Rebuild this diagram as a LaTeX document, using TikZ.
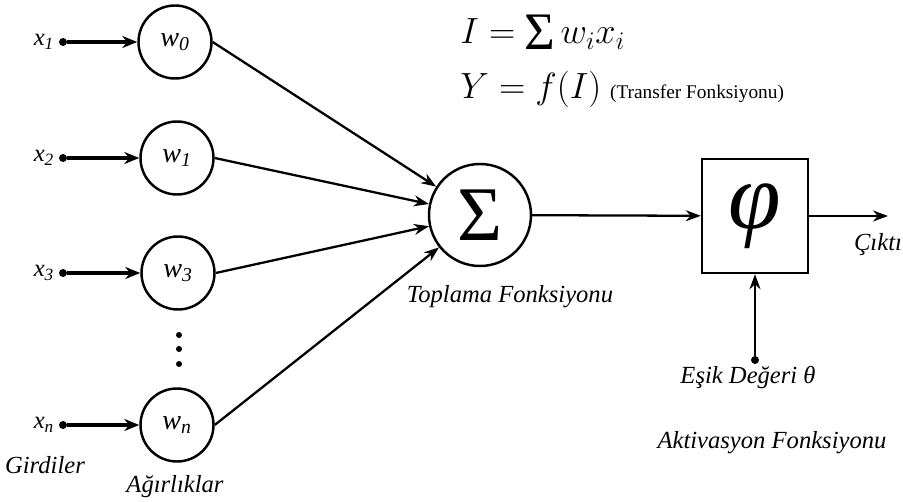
\documentclass[tikz,border=0pt]{standalone}
\usepackage{amsmath}
\usepackage{fontspec}
\setmainfont{Liberation Serif}
\usetikzlibrary{arrows.meta}

\tikzset{
  weight/.style={draw, circle, line width=1.4pt, minimum size=1.46cm, inner sep=0pt,
    font=\fontsize{16}{18}\selectfont\itshape},
  dot/.style={circle, fill, inner sep=0pt, minimum size=0.16cm},
  inarrow/.style={line width=2pt, -{Stealth[length=3mm,width=2.4mm]}},
  conn/.style={line width=1.3pt, -{Stealth[length=3mm,width=2.2mm]}},
  lbl/.style={font=\fontsize{14}{16}\selectfont\itshape},
}

\begin{document}
\begin{tikzpicture}
  \useasboundingbox (0,0) rectangle (18.06,10.04);

  % weights
  \node[weight] (w0) at (3.5,9.2)   {w\textsubscript{0}};
  \node[weight] (w1) at (3.54,6.88) {w\textsubscript{1}};
  \node[weight] (w3) at (3.56,4.58) {w\textsubscript{3}};
  \node[weight] (wn) at (3.54,1.54) {w\textsubscript{n}};
  \foreach \y in {3.34,3.06,2.76}
    \fill (3.58,\y) circle (0.06);

  % inputs
  \node[dot] (x1) at (1.26,9.2)  {};
  \node[dot] (x2) at (1.26,6.88) {};
  \node[dot] (x3) at (1.26,4.58) {};
  \node[dot] (xn) at (1.26,1.54) {};
  \node[lbl, left=-1pt] (lx1) at (x1.west) {x\textsubscript{1}};
  \node[lbl, left=-1pt] (lx2) at (x2.west) {x\textsubscript{2}};
  \node[lbl, left=-1pt] (lx3) at (x3.west) {x\textsubscript{3}};
  \node[lbl, left=-1pt] (lxn) at (xn.west) {x\textsubscript{n}};
  \draw[inarrow] (x1) -- (w0);
  \draw[inarrow] (x2) -- (w1);
  \draw[inarrow] (x3) -- (w3);
  \draw[inarrow] (xn) -- (wn);

  % sum and activation
  \node[draw, circle, line width=1.4pt, minimum size=2.04cm, inner sep=0pt,
    font=\fontsize{44}{48}\selectfont] (sum) at (9.6,5.74) {Σ};
  \node[draw, line width=1.4pt, minimum width=2.12cm, minimum height=2.28cm, inner sep=0pt,
    font=\fontsize{54}{58}\selectfont\itshape] (phi) at (15.1,5.72) {φ};
  \coordinate (out) at (17.76,5.72);
  \node[dot] (theta) at (15.1,2.84) {};

  \draw[conn] (w0.east) -- (sum);
  \draw[conn] (w1.east) -- (sum);
  \draw[conn] (w3.east) -- (sum);
  \draw[conn] (wn.east) -- (sum);
  \draw[conn] (sum) -- (phi);
  \draw[conn] (phi) -- (out);
  \draw[conn] (theta) -- (phi);

  % labels
  \node[lbl] (girdi) at (0.9,0.74) {Girdiler};
  \node[lbl] (agirlik) at (3.5,0.3) {Ağırlıklar};
  \node[lbl] (topla) at (10.2,4.1) {Toplama Fonksiyonu};
  \node[lbl] (cikti) at (17.56,5.14) {Çıktı};
  \node[lbl] (esik) at (14.96,2.48) {Eşik Değeri θ};
  \node[lbl] (aktiv) at (15.44,1.18) {Aktivasyon Fonksiyonu};

  % formulas
  \node[anchor=west, inner sep=0pt, font=\fontsize{20}{24}\selectfont] (f1) at (9.2,9.4)
    {$I=$ \raisebox{-3pt}{\fontsize{30}{30}\selectfont Σ}\,$w_i x_i$};
  \node[anchor=west, inner sep=0pt, font=\fontsize{20}{24}\selectfont] (f2) at (9.2,8.26)
    {$Y=f(I)$ {\fontsize{11}{13}\selectfont(Transfer Fonksiyonu)}};
\end{tikzpicture}
\end{document}
